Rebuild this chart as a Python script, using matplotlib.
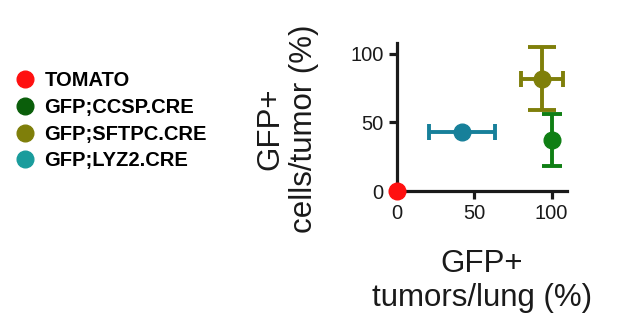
import matplotlib
matplotlib.use("Agg")
import matplotlib.pyplot as plt
from matplotlib.lines import Line2D

plt.rcParams['font.family'] = ['Liberation Sans', 'DejaVu Sans']

groups = ["TOMATO", "GFP;CCSP.CRE", "GFP;SFTPC.CRE", "GFP;LYZ2.CRE"]
x_vals = [0, 100, 94, 42]
y_vals = [0, 37, 82, 43]
x_err = [0, 0, 13.5, 21.5]
y_err = [0, 19, 23, 0]
plot_colors = ["#ff1010", "#0f7f14", "#7f7f0a", "#17809a"]
legend_colors = ["#ff1010", "#0a5e0a", "#7f7f0a", "#1a9c9c"]
xcaps = [0, 0, 6, 5.5]
ycaps = [0, 7, 10, 0]

fig = plt.figure(figsize=(6.17, 3.25), dpi=100)
ax = fig.add_axes([0.6434, 0.4123, 0.2755, 0.4554])

for i in range(len(groups)):
    ax.plot(x_vals[i], y_vals[i], 'o', color=plot_colors[i], markersize=12,
            clip_on=False, zorder=6)
    if x_err[i]:
        ax.errorbar(x_vals[i], y_vals[i], xerr=x_err[i], fmt='none',
                    ecolor=plot_colors[i], elinewidth=2.8, capsize=xcaps[i],
                    capthick=2.8, clip_on=False, zorder=5)
    if y_err[i]:
        ax.errorbar(x_vals[i], y_vals[i], yerr=y_err[i], fmt='none',
                    ecolor=plot_colors[i], elinewidth=2.8, capsize=ycaps[i],
                    capthick=2.8, clip_on=False, zorder=5)

ax.set_xlim(0, 110)
ax.set_ylim(0, 108)
ax.set_xticks([0, 50, 100])
ax.set_yticks([0, 50, 100])
for s in ['top', 'right']:
    ax.spines[s].set_visible(False)
for s in ['left', 'bottom']:
    ax.spines[s].set_linewidth(2.3)
    ax.spines[s].set_color('#1a1a1a')
ax.tick_params(width=2.3, length=5.5, labelsize=14.5, colors='#1a1a1a', pad=4)

fig.text(0.781, 0.135, "GFP+\ntumors/lung (%)", ha='center', va='center',
         fontsize=22.5, linespacing=1.15, color='#1a1a1a')
fig.text(0.465, 0.605, "GFP+\ncells/tumor (%)", ha='center', va='center',
         rotation=90, fontsize=22.5, linespacing=1.15, color='#1a1a1a')

handles = [Line2D([], [], marker='o', linestyle='none', color=c,
                  markersize=12) for c in legend_colors]
fig.legend(handles, groups, loc='upper left', bbox_to_anchor=(0.005, 0.805),
           frameon=False, prop={'weight': 'bold', 'size': 14.5},
           handletextpad=0.25, labelspacing=0.38, handlelength=1.4,
           borderaxespad=0)

fig.savefig("out.png", dpi=100)
